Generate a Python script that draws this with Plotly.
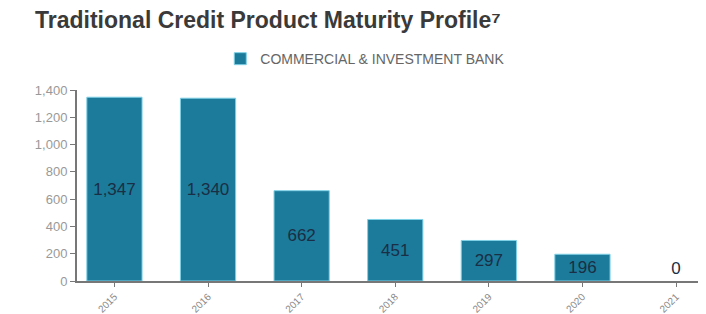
import plotly.graph_objects as go

categories = ["2015", "2016", "2017", "2018", "2019", "2020", "2021"]
values = [1347, 1340, 662, 451, 297, 196, 0]
series_name = "COMMERCIAL & INVESTMENT BANK"
y_ticks = [0, 200, 400, 600, 800, 1000, 1200, 1400]

text_pos = ["inside" if v > 0 else "outside" for v in values]

W, H = 698, 306  # page body has an 8px margin

fig = go.Figure()
fig.add_trace(go.Bar(
    x=categories, y=values, name=series_name,
    marker=dict(color="#1c7b9a", line=dict(color="#7fd0e6", width=[1 if v > 0 else 0 for v in values])),
    width=0.59,
    text=[f"{v:,}" for v in values],
    textposition=text_pos,
    insidetextanchor="middle",
    textfont=dict(family="Liberation Sans, Arial", size=17, color="#1a2e45"),
    cliponaxis=False,
))

fig.update_layout(
    width=W, height=H,
    margin=dict(l=69, r=0, t=82, b=33),
    paper_bgcolor="white", plot_bgcolor="white",
    title=dict(text="<b>Traditional Credit Product Maturity Profile⁷</b>",
               x=27/W, xref="container", xanchor="left",
               y=1-12/H, yref="container", yanchor="middle",
               font=dict(family="Liberation Sans, Arial", size=23, color="#3a3a3a")),
    showlegend=True,
    legend=dict(orientation="h", x=0.4583, xanchor="center", y=1.162, yanchor="middle",
                font=dict(family="Liberation Sans, Arial", size=14, color="#666666"),
                bgcolor="rgba(0,0,0,0)"),
    font=dict(family="Liberation Sans, Arial"),
)
fig.update_xaxes(
    type="category", range=[-0.4, 6.32], automargin=False,
    showline=True, linecolor="#777777", linewidth=2,
    ticks="outside", ticklen=4, tickcolor="#777777",
    tickangle=-45, tickfont=dict(size=10, color="#888888"),
    showgrid=False,
)
fig.update_yaxes(
    range=[0, 1400], tickvals=y_ticks, tickformat=",", automargin=False,
    showline=True, linecolor="#777777", linewidth=2,
    ticks="outside", ticklen=5, tickcolor="#777777",
    tickfont=dict(size=13, color="#999999"),
    showgrid=False, zeroline=False,
)
fig.write_html("out.html")
